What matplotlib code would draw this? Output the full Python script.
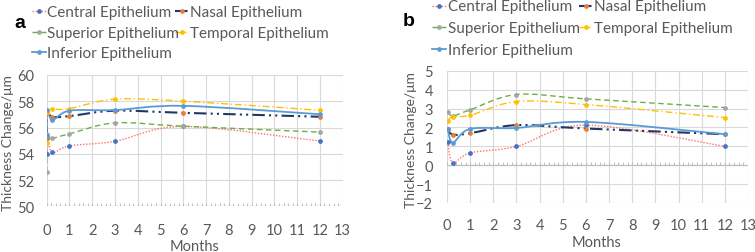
import numpy as np
import matplotlib
matplotlib.use("Agg")
import matplotlib.pyplot as plt
from matplotlib.path import Path
from matplotlib.patches import PathPatch
from matplotlib.lines import Line2D

# ---------------- data ----------------
series_names = ["Central Epithelium", "Nasal Epithelium", "Superior Epithelium",
                "Temporal Epithelium", "Inferior Epithelium"]

months_a = [0, 0.033, 0.25, 1, 3, 6, 12]
central_a = [53.96, 55.19, 54.10, 54.61, 54.95, 56.08, 54.97]
nasal_a = [55.18, 57.08, 56.80, 56.87, 57.28, 57.12, 56.82]
superior_a = [52.59, 55.43, 55.20, 55.52, 56.35, 56.10, 55.65]
temporal_a = [54.80, 57.15, 57.38, 57.44, 58.16, 58.01, 57.31]
inferior_a = [55.38, 57.30, 56.57, 57.28, 57.33, 57.65, 57.01]

months_b = [0.033, 0.25, 1, 3, 6, 12]
central_b = [1.23, 0.14, 0.65, 0.99, 2.12, 1.00]
nasal_b = [1.90, 1.62, 1.69, 2.12, 1.94, 1.64]
superior_b = [2.84, 2.61, 2.93, 3.74, 3.51, 3.05]
temporal_b = [2.35, 2.57, 2.64, 3.37, 3.21, 2.52]
inferior_b = [1.92, 1.20, 1.92, 1.97, 2.29, 1.64]

x_ticks = list(range(0, 14))
y_ticks_a = [50, 52, 54, 56, 58, 60]
y_ticks_b = [-2, -1, 0, 1, 2, 3, 4, 5]

# ---------------- styles ----------------
FONT = "Lato"
TXT = "#595959"
GRID = "#D9D9D9"
MS = 2.4
styles = [
    dict(color="#FF6F6F", ls=(0, (1, 1.2)), lw=1.0, mc="#4472C4"),          # Central
    dict(color="#203864", ls=(0, (6, 2, 1, 2, 1, 2)), lw=1.5, mc="#ED7D31"),  # Nasal
    dict(color="#70AD47", ls=(0, (4, 2.5)), lw=1.0, mc="#A5A5A5"),            # Superior
    dict(color="#FFC000", ls=(0, (5, 2, 1, 2)), lw=1.0, mc="#FFC000"),        # Temporal
    dict(color="#5B9BD5", ls="-", lw=1.3, mc="#5B9BD5"),                      # Inferior
]

W, H = 755, 253
fig = plt.figure(figsize=(W / 100, H / 100), dpi=100)


def fx(px):
    return px / W


def fy(py):
    return 1 - py / H


def smooth_path(x, y):
    P = np.column_stack([x, y]).astype(float)
    n = len(P)
    verts = [P[0]]
    codes = [Path.MOVETO]
    for i in range(n - 1):
        p0 = P[i - 1] if i > 0 else P[i]
        p1 = P[i]
        p2 = P[i + 1]
        p3 = P[i + 2] if i + 2 < n else P[i + 1]
        c1 = p1 + (p2 - p0) / 6.0
        c2 = p2 - (p3 - p1) / 6.0
        verts += [c1, c2, p2]
        codes += [Path.CURVE4] * 3
    return Path(np.array(verts), codes)


def draw_panel(ax, months, data, yticks, ylim, axis_y, xpad, ypad):
    ax.set_xlim(0, 13)
    ax.set_ylim(*ylim)
    ax.set_xticks(x_ticks)
    ax.set_yticks(yticks)
    ax.grid(True, color=GRID, lw=0.8)
    ax.set_axisbelow(True)
    for s in ax.spines.values():
        s.set_visible(False)
    ax.tick_params(axis="both", length=0, labelsize=10.5, colors=TXT, labelfontfamily=FONT)
    ax.tick_params(axis="x", pad=xpad)
    ax.tick_params(axis="y", pad=ypad)
    ax.axhline(axis_y, color="#BFBFBF", lw=0.9, zorder=1)
    minor = np.arange(0, 13.001, 0.2)
    tick_h = (ylim[1] - ylim[0]) * 0.025
    ax.vlines(minor, axis_y, axis_y + tick_h, color="#BFBFBF", lw=0.7, zorder=1)
    for vals, st in zip(data, styles):
        patch = PathPatch(smooth_path(months, vals), fill=False, edgecolor=st["color"],
                          lw=st["lw"], linestyle=st["ls"], zorder=3, capstyle="butt")
        ax.add_patch(patch)
        ax.plot(months, vals, ls="none", marker="o", ms=MS, mfc=st["mc"], mec=st["mc"], zorder=4)


def legend(col1_px, col2_px, rows_px):
    pos = [(col1_px, rows_px[0]), (col2_px, rows_px[0]),
           (col1_px, rows_px[1]), (col2_px, rows_px[1]),
           (col1_px, rows_px[2])]
    for name, st, (px, py) in zip(series_names, styles, pos):
        ln = Line2D([fx(px), fx(px + 14)], [fy(py), fy(py)], transform=fig.transFigure,
                    color=st["color"], lw=st["lw"], ls=st["ls"])
        fig.add_artist(ln)
        mk = Line2D([fx(px + 7)], [fy(py)], transform=fig.transFigure, ls="none",
                    marker="o", ms=MS, mfc=st["mc"], mec=st["mc"])
        fig.add_artist(mk)
        fig.text(fx(px + 15.5), fy(py + 1), name, fontsize=11, color=TXT, family=FONT,
                 va="center", ha="left")


# ---------------- panel a ----------------
ax_a = fig.add_axes([fx(46.7), fy(207.3), fx(342.7) - fx(46.7), fy(76) - fy(207.3)])
draw_panel(ax_a, months_a, [central_a, nasal_a, superior_a, temporal_a, inferior_a],
           y_ticks_a, (50, 60), 50, 12, 9)
fig.text(fx(195), fy(251), "Months", fontsize=10.5, color=TXT, family=FONT, ha="center", va="baseline")
fig.text(fx(8), fy(143), "Thickness Change/μm", fontsize=10, color=TXT, family=FONT,
         rotation=90, ha="center", va="center")
fig.text(fx(19.5), fy(24), "a", fontsize=14, fontweight="bold", family="Liberation Sans",
         ha="center", va="center", color="black")
legend(31.7, 175, [11.7, 33, 53])

# ---------------- panel b ----------------
ax_b = fig.add_axes([fx(447), fy(204), fx(748) - fx(447), fy(71.7) - fy(204)])
draw_panel(ax_b, months_b, [central_b, nasal_b, superior_b, temporal_b, inferior_b],
           y_ticks_b, (-2, 5), 0, 11, 10)
fig.text(fx(597), fy(247.5), "Months", fontsize=10.5, color=TXT, family=FONT, ha="center", va="baseline")
fig.text(fx(411), fy(140), "Thickness Change/μm", fontsize=10, color=TXT, family=FONT,
         rotation=90, ha="center", va="center")
fig.text(fx(408.5), fy(21), "b", fontsize=14, fontweight="bold", family="Liberation Sans",
         ha="center", va="center", color="black")
legend(432, 578.7, [6.5, 28.3, 50])

fig.savefig("out.png", dpi=100)
